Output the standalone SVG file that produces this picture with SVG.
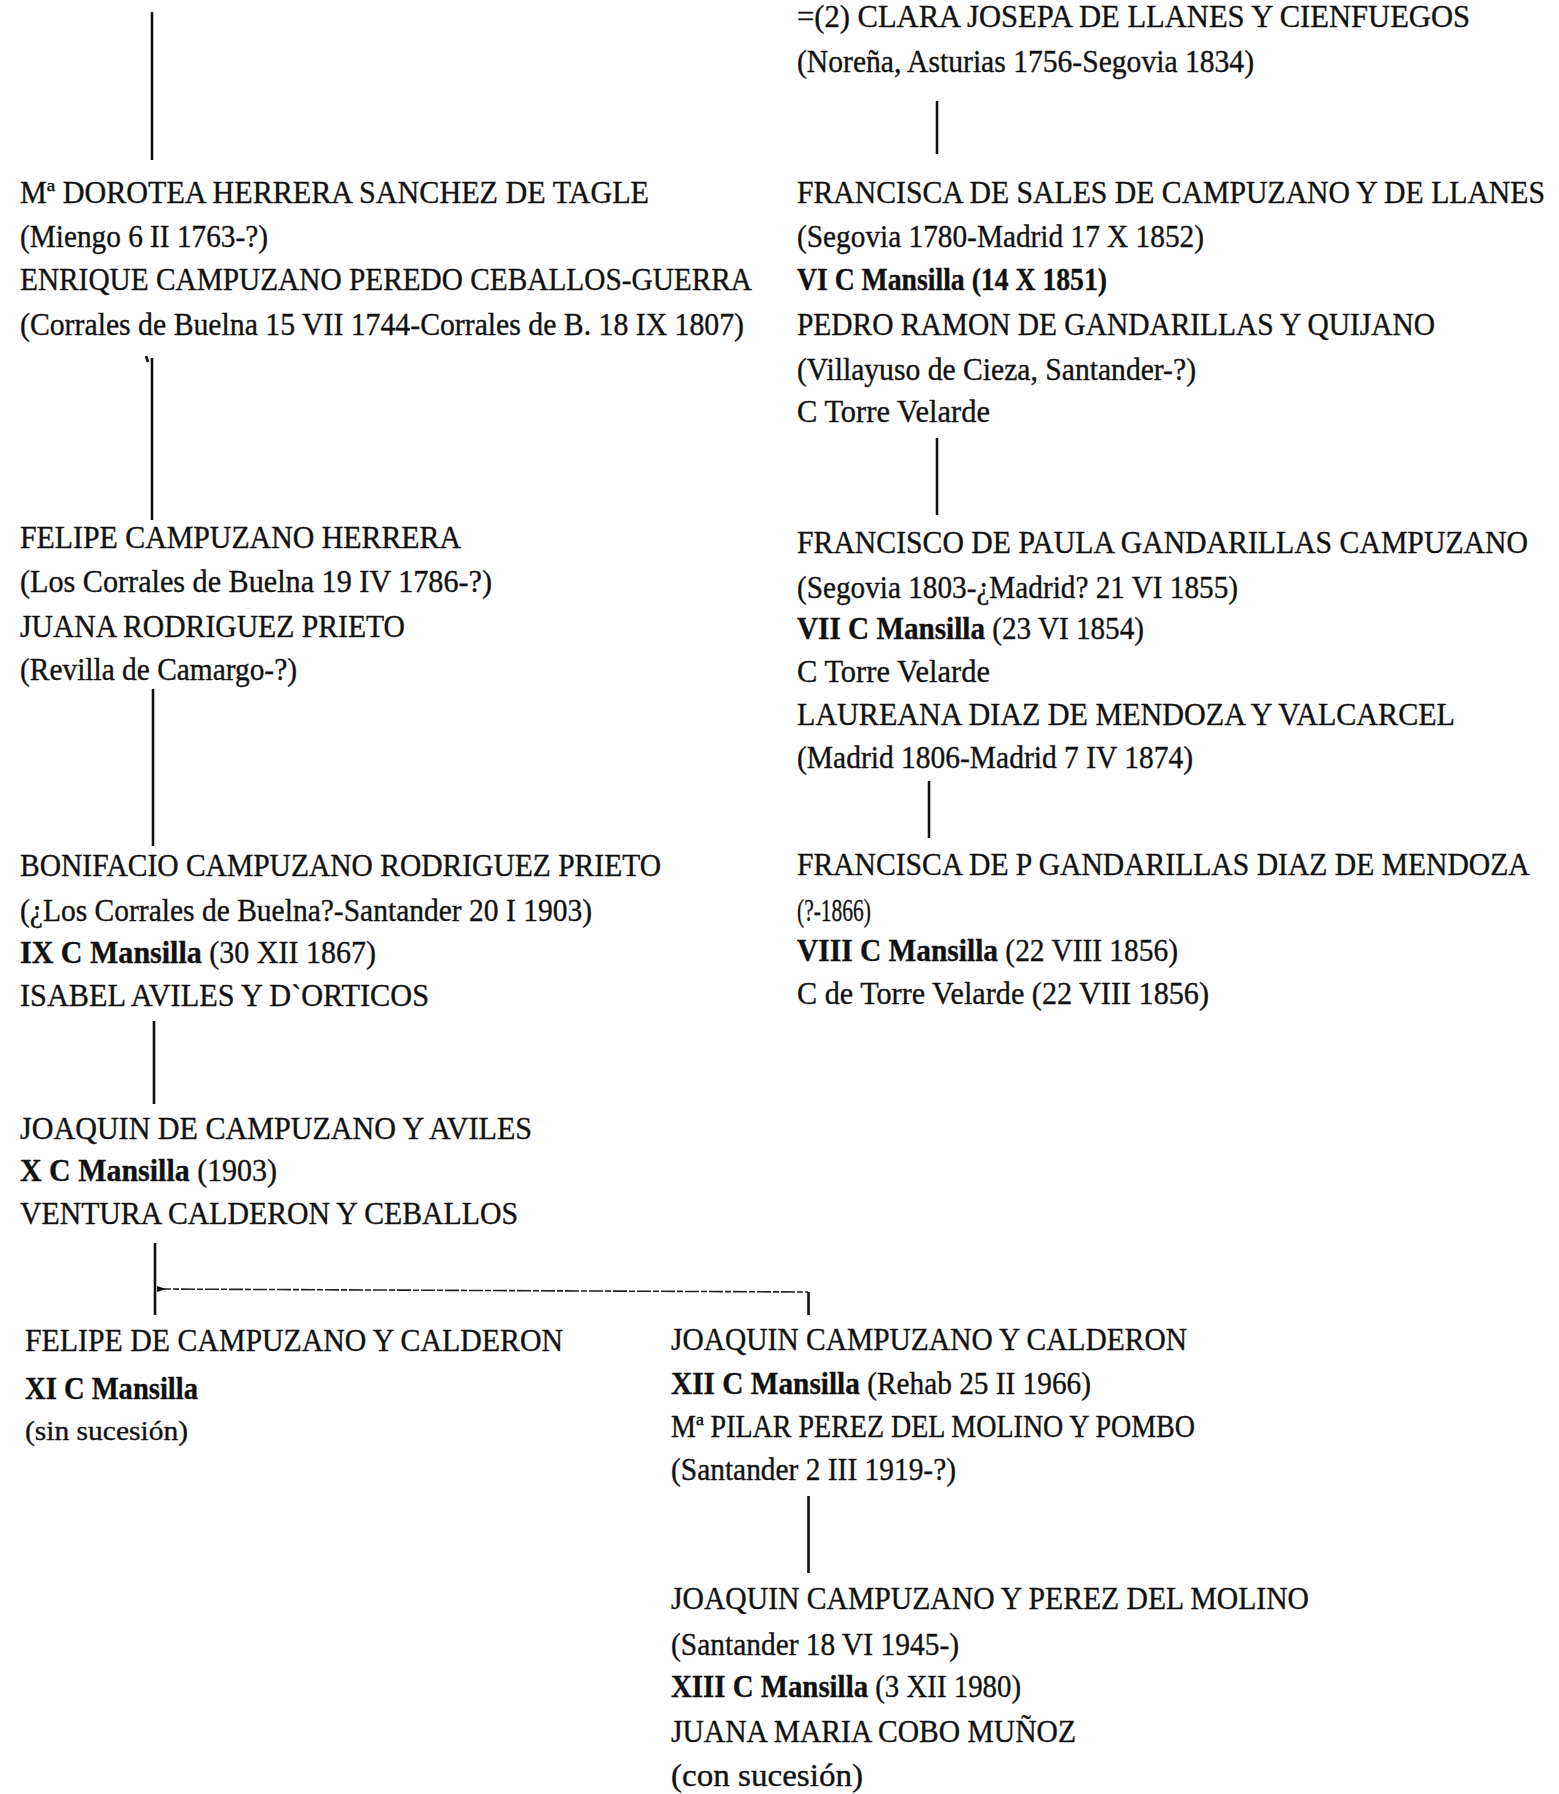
<svg xmlns="http://www.w3.org/2000/svg" width="1559" height="1794" viewBox="0 0 1559 1794">
  <style>
    text { font-family: "Liberation Serif", "Times New Roman", serif; font-size: 31px; fill: #111; stroke: #111; stroke-width: 0.35; }
    .b { font-weight: bold; }
    .sm { font-size: 27px; }
    .ln { stroke: #111; stroke-width: 2.6; fill: none; stroke-linecap: butt; }
    .thin { stroke: #222; stroke-width: 1.6; fill: none; stroke-dasharray: 14 2 6 2; }
  </style>
  <rect width="1559" height="1794" fill="#ffffff"/>

  <!-- descent connectors -->
  <g id="connectors">
    <line class="ln" x1="152" y1="12" x2="152" y2="160"/>
    <line class="ln" x1="152" y1="358" x2="152" y2="520"/>
    <path class="ln" d="M146 356 l2 6" stroke-width="2"/>
    <line class="ln" x1="153" y1="689" x2="153" y2="846"/>
    <line class="ln" x1="154" y1="1021" x2="154" y2="1104"/>
    <line class="ln" x1="155" y1="1243" x2="155" y2="1315"/>
    <path class="thin" d="M157 1289 L808 1292"/>
    <path d="M157 1286 L166 1289 L157 1292 Z" fill="#111"/>
    <line class="ln" x1="808.5" y1="1292" x2="808.5" y2="1315" stroke-width="3.2"/>
    <line class="ln" x1="808.5" y1="1496" x2="808.5" y2="1573"/>
    <line class="ln" x1="937" y1="101" x2="937" y2="154"/>
    <line class="ln" x1="937" y1="438" x2="937" y2="515"/>
    <line class="ln" x1="929" y1="781" x2="929" y2="838"/>
  </g>

  <!-- left branch -->
  <g id="dorotea-enrique">
    <text x="20" y="203" textLength="629" lengthAdjust="spacingAndGlyphs">Mª DOROTEA HERRERA SANCHEZ DE TAGLE</text>
    <text x="20" y="247" textLength="248" lengthAdjust="spacingAndGlyphs">(Miengo 6 II 1763-?)</text>
    <text x="20" y="290" textLength="732" lengthAdjust="spacingAndGlyphs">ENRIQUE CAMPUZANO PEREDO CEBALLOS-GUERRA</text>
    <text x="20" y="335" textLength="724" lengthAdjust="spacingAndGlyphs">(Corrales de Buelna 15 VII 1744-Corrales de B. 18 IX 1807)</text>
  </g>
  <g id="felipe-juana">
    <text x="20" y="548" textLength="441" lengthAdjust="spacingAndGlyphs">FELIPE CAMPUZANO HERRERA</text>
    <text x="20" y="592" textLength="472" lengthAdjust="spacingAndGlyphs">(Los Corrales de Buelna 19 IV 1786-?)</text>
    <text x="20" y="637" textLength="385" lengthAdjust="spacingAndGlyphs">JUANA RODRIGUEZ PRIETO</text>
    <text x="20" y="680" textLength="277" lengthAdjust="spacingAndGlyphs">(Revilla de Camargo-?)</text>
  </g>
  <g id="bonifacio-isabel">
    <text x="20" y="876" textLength="641" lengthAdjust="spacingAndGlyphs">BONIFACIO CAMPUZANO RODRIGUEZ PRIETO</text>
    <text x="20" y="921" textLength="572" lengthAdjust="spacingAndGlyphs">(¿Los Corrales de Buelna?-Santander 20 I 1903)</text>
    <text x="20" y="963" textLength="356" lengthAdjust="spacingAndGlyphs"><tspan class="b">IX C Mansilla</tspan> (30 XII 1867)</text>
    <text x="20" y="1006" textLength="409" lengthAdjust="spacingAndGlyphs">ISABEL AVILES Y D`ORTICOS</text>
  </g>
  <g id="joaquin-ventura">
    <text x="20" y="1139" textLength="512" lengthAdjust="spacingAndGlyphs">JOAQUIN DE CAMPUZANO Y AVILES</text>
    <text x="20" y="1181" textLength="257" lengthAdjust="spacingAndGlyphs"><tspan class="b">X C Mansilla</tspan> (1903)</text>
    <text x="20" y="1224" textLength="498" lengthAdjust="spacingAndGlyphs">VENTURA CALDERON Y CEBALLOS</text>
  </g>
  <g id="felipe-calderon">
    <text x="25" y="1351" textLength="538" lengthAdjust="spacingAndGlyphs">FELIPE DE CAMPUZANO Y CALDERON</text>
    <text x="25" y="1399" textLength="173" lengthAdjust="spacingAndGlyphs" class="b">XI C Mansilla</text>
    <text x="25" y="1440" textLength="163" lengthAdjust="spacingAndGlyphs" class="sm">(sin sucesión)</text>
  </g>
  <g id="joaquin-pilar">
    <text x="671" y="1350" textLength="516" lengthAdjust="spacingAndGlyphs">JOAQUIN CAMPUZANO Y CALDERON</text>
    <text x="671" y="1394" textLength="420" lengthAdjust="spacingAndGlyphs"><tspan class="b">XII C Mansilla</tspan> (Rehab 25 II 1966)</text>
    <text x="671" y="1437" textLength="524" lengthAdjust="spacingAndGlyphs">Mª PILAR PEREZ DEL MOLINO Y POMBO</text>
    <text x="671" y="1480" textLength="285" lengthAdjust="spacingAndGlyphs">(Santander 2 III 1919-?)</text>
  </g>
  <g id="joaquin-juana">
    <text x="671" y="1609" textLength="638" lengthAdjust="spacingAndGlyphs">JOAQUIN CAMPUZANO Y PEREZ DEL MOLINO</text>
    <text x="671" y="1655" textLength="288" lengthAdjust="spacingAndGlyphs">(Santander 18 VI 1945-)</text>
    <text x="671" y="1697" textLength="350" lengthAdjust="spacingAndGlyphs"><tspan class="b">XIII C Mansilla</tspan> (3 XII 1980)</text>
    <text x="671" y="1742" textLength="405" lengthAdjust="spacingAndGlyphs">JUANA MARIA COBO MUÑOZ</text>
    <text x="671" y="1786" textLength="192" lengthAdjust="spacingAndGlyphs">(con sucesión)</text>
  </g>

  <!-- right branch -->
  <g id="clara">
    <text x="797" y="27" textLength="673" lengthAdjust="spacingAndGlyphs">=(2) CLARA JOSEPA DE LLANES Y CIENFUEGOS</text>
    <text x="797" y="72" textLength="457" lengthAdjust="spacingAndGlyphs">(Noreña, Asturias 1756-Segovia 1834)</text>
  </g>
  <g id="francisca-pedro">
    <!-- long name set in a horizontally condensed frame so it stays inside the page -->
    <g transform="translate(797 203) scale(0.85 1)">
      <text x="0" y="0" textLength="880" lengthAdjust="spacingAndGlyphs">FRANCISCA DE SALES DE CAMPUZANO Y DE LLANES</text>
    </g>
    <text x="797" y="247" textLength="407" lengthAdjust="spacingAndGlyphs">(Segovia 1780-Madrid 17 X 1852)</text>
    <text x="797" y="290" textLength="310" lengthAdjust="spacingAndGlyphs" class="b">VI C Mansilla (14 X 1851)</text>
    <text x="797" y="335" textLength="638" lengthAdjust="spacingAndGlyphs">PEDRO RAMON DE GANDARILLAS Y QUIJANO</text>
    <text x="797" y="380" textLength="399" lengthAdjust="spacingAndGlyphs">(Villayuso de Cieza, Santander-?)</text>
    <text x="797" y="422" textLength="193" lengthAdjust="spacingAndGlyphs">C Torre Velarde</text>
  </g>
  <g id="francisco-laureana">
    <text x="797" y="553" textLength="731" lengthAdjust="spacingAndGlyphs">FRANCISCO DE PAULA GANDARILLAS CAMPUZANO</text>
    <text x="797" y="598" textLength="441" lengthAdjust="spacingAndGlyphs">(Segovia 1803-¿Madrid? 21 VI 1855)</text>
    <text x="797" y="639" textLength="347" lengthAdjust="spacingAndGlyphs"><tspan class="b">VII C Mansilla</tspan> (23 VI 1854)</text>
    <text x="797" y="682" textLength="193" lengthAdjust="spacingAndGlyphs">C Torre Velarde</text>
    <text x="797" y="725" textLength="658" lengthAdjust="spacingAndGlyphs">LAUREANA DIAZ DE MENDOZA Y VALCARCEL</text>
    <text x="797" y="768" textLength="396" lengthAdjust="spacingAndGlyphs">(Madrid 1806-Madrid 7 IV 1874)</text>
  </g>
  <g id="francisca-p">
    <g transform="translate(797 875) scale(0.85 1)">
      <text x="0" y="0" textLength="862" lengthAdjust="spacingAndGlyphs">FRANCISCA DE P GANDARILLAS DIAZ DE MENDOZA</text>
    </g>
    <text x="797" y="921" textLength="74" lengthAdjust="spacingAndGlyphs">(?-1866)</text>
    <text x="797" y="961" textLength="381" lengthAdjust="spacingAndGlyphs"><tspan class="b">VIII C Mansilla</tspan> (22 VIII 1856)</text>
    <text x="797" y="1004" textLength="412" lengthAdjust="spacingAndGlyphs">C de Torre Velarde (22 VIII 1856)</text>
  </g>
</svg>
